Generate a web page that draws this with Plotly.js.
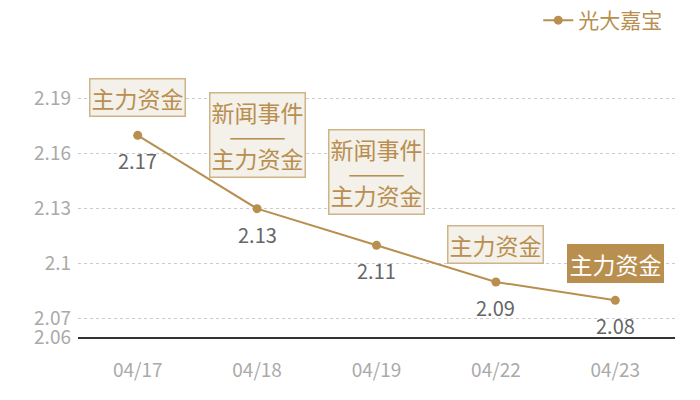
<!DOCTYPE html>
<html>
<head>
<meta charset="utf-8">
<script src="https://cdn.plot.ly/plotly-3.0.1.min.js"></script>
<style>
  html, body { margin: 0; padding: 0; background: #fff; }
  #chart { width: 700px; height: 400px; }
</style>
</head>
<body>
<div id="chart"></div>
<script>
// ── Data ──────────────────────────────────────────────────────────────────────
const dates  = ['04/17', '04/18', '04/19', '04/22', '04/23'];
const prices = [2.17, 2.13, 2.11, 2.09, 2.08];
const events = [['主力资金'], ['新闻事件', '主力资金'], ['新闻事件', '主力资金'], ['主力资金'], ['主力资金']];
const yTicks = [2.06, 2.07, 2.1, 2.13, 2.16, 2.19];
const seriesName = '光大嘉宝';

const GOLD = '#b88f4f';
const FONT = '"Noto Sans CJK SC", "Noto Sans", sans-serif';

// ── Trace ─────────────────────────────────────────────────────────────────────
const trace = {
  x: dates,
  y: prices,
  type: 'scatter',
  mode: 'lines+markers',
  name: seriesName,
  line: { color: GOLD, width: 2 },
  marker: { color: GOLD, size: 9 },
  hoverinfo: 'skip',
};

// ── Annotations: value labels + event boxes ───────────────────────────────────
const annotations = [];
prices.forEach((v, i) => {
  annotations.push({
    x: dates[i], y: v,
    text: v.toFixed(2),
    showarrow: false,
    yanchor: 'top',
    yshift: -9,
    font: { family: FONT, size: 20, color: '#666' },
  });
});

// gap (px) between point and bottom of its event box
const gaps = [18, 31, 30, 18, 17];
events.forEach((lines, i) => {
  const last = i === events.length - 1;
  let text, size;
  if (lines.length > 1) {
    // small base size keeps the line spacing tight, spans enlarge the words
    const big = s => '<span style="font-size:23px">' + s + '</span>';
    text = big(lines[0]) + '<br>' + big('———') + '<br>' + big(lines[1]);
    size = 18;
  } else {
    text = lines[0];
    size = 23;
  }
  annotations.push({
    x: dates[i], y: prices[i],
    text: text,
    showarrow: false,
    yanchor: 'bottom',
    yshift: gaps[i],
    align: 'center',
    bgcolor: last ? '#b88f4f' : '#f4f0ea',
    bordercolor: last ? '#b88f4f' : '#cfb389',
    borderwidth: 1.5,
    borderpad: 1,
    font: { family: FONT, size: size, color: last ? '#fff' : GOLD },
  });
});

// ── Layout ────────────────────────────────────────────────────────────────────
const layout = {
  width: 700,
  height: 400,
  paper_bgcolor: '#fff',
  plot_bgcolor: '#fff',
  font: { family: FONT, color: '#aaa' },
  margin: { l: 78, r: 25, t: 62, b: 63 },
  showlegend: true,
  legend: {
    orientation: 'h',
    x: 0.987, xanchor: 'right',
    y: 1, yanchor: 'top',
    yref: 'container',
    font: { family: FONT, size: 21, color: GOLD },
  },
  xaxis: {
    type: 'category',
    range: [-0.5, 4.5],
    showgrid: false,
    showline: true,
    linecolor: '#333',
    linewidth: 1.5,
    ticks: '',
    ticklabelstandoff: 16,
    tickfont: { family: FONT, size: 19, color: '#aaa' },
    fixedrange: true,
  },
  yaxis: {
    range: [2.06, 2.21],
    tickvals: yTicks,
    ticktext: yTicks.map(v => String(v)),
    showgrid: true,
    gridcolor: '#ccc',
    griddash: 'dot',
    gridwidth: 1,
    zeroline: false,
    showline: false,
    ticks: '',
    ticklabelstandoff: 6,
    tickfont: { family: FONT, size: 19, color: '#aaa' },
    fixedrange: true,
  },
  annotations: annotations,
};

Plotly.newPlot('chart', [trace], layout, { displayModeBar: false, staticPlot: true });
</script>
</body>
</html>
